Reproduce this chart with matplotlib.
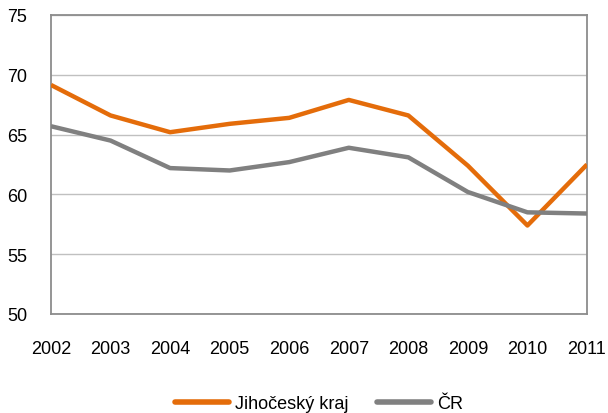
import matplotlib
matplotlib.use("Agg")
import matplotlib.pyplot as plt

plt.rcParams["font.family"] = ["Liberation Sans", "DejaVu Sans"]

YEARS = [2002, 2003, 2004, 2005, 2006, 2007, 2008, 2009, 2010, 2011]
JIHOCESKY = [69.15, 66.6, 65.2, 65.9, 66.4, 67.9, 66.6, 62.4, 57.4, 62.5]
CR = [65.7, 64.5, 62.2, 62.0, 62.7, 63.9, 63.1, 60.2, 58.5, 58.4]
Y_TICKS = [50, 55, 60, 65, 70, 75]

ORANGE = "#E46C0A"
GRAY = "#808080"

fig = plt.figure(figsize=(6.08, 4.14), dpi=100)
ax = fig.add_axes([51 / 608, 1 - 315 / 414, 536 / 608, 299 / 414])

ax.plot(YEARS, JIHOCESKY, color=ORANGE, linewidth=3.2, label="Jihočeský kraj",
        solid_capstyle="butt", solid_joinstyle="round", zorder=3)
ax.plot(YEARS, CR, color=GRAY, linewidth=3.2, label="ČR",
        solid_capstyle="butt", solid_joinstyle="round", zorder=3)

ax.set_xlim(YEARS[0], YEARS[-1])
ax.set_ylim(50, 75)
ax.set_yticks(Y_TICKS)
ax.set_xticks(YEARS)
ax.grid(True, axis="y", color="#c0c0c0", linewidth=1.0, zorder=1)
for sp in ax.spines.values():
    sp.set_color("#8c8c8c")
    sp.set_linewidth(1.3)
ax.tick_params(axis="both", length=0, labelsize=13, colors="black")
ax.tick_params(axis="x", pad=19)
ax.tick_params(axis="y", pad=17)

leg = ax.legend(loc="upper center", bbox_to_anchor=(0.50, -0.218), ncol=2,
                frameon=False, fontsize=13, handlelength=3.0, handletextpad=0.3,
                columnspacing=1.6)
for line in leg.get_lines():
    line.set_solid_capstyle("round")
    line.set_linewidth(4)

fig.savefig("out.png", dpi=100)
